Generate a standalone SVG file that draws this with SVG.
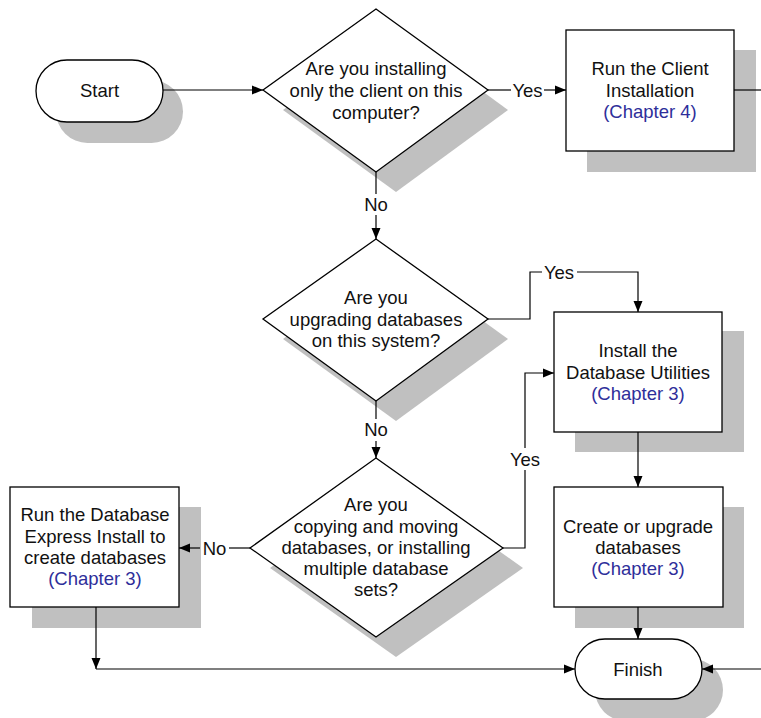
<svg xmlns="http://www.w3.org/2000/svg" width="761" height="718" viewBox="0 0 761 718">
<style>
.sh{fill:#c0c0c0;stroke:none}
.nd{fill:#fff;stroke:#000;stroke-width:1.3}
text{font-family:"Liberation Sans",Arial,sans-serif;font-size:18.5px;fill:#111;text-anchor:middle}
.ch{fill:#2e2e9a}
.cn{fill:none;stroke:#000;stroke-width:1.2}
</style>
<defs>
<marker id="ah" markerUnits="userSpaceOnUse" markerWidth="12" markerHeight="10" refX="11" refY="5" orient="auto">
<path d="M0,0.5 L11,5 L0,9.5 z" fill="#000"/>
</marker>
</defs>
<rect width="761" height="718" fill="#fff"/>

<g id="start">
<rect class="sh" x="56" y="80" width="127" height="63" rx="31.5"/>
<rect class="nd" x="36" y="60" width="127" height="62" rx="31"/>
<text x="99.5" y="97">Start</text>
</g>

<g id="q-client">
<polygon class="sh" points="396,28 508,110 396,192 283,110"/>
<polygon class="nd" points="376,9 488,90 376,172 263,90"/>
<text x="376" y="75">Are you installing</text>
<text x="376" y="97">only the client on this</text>
<text x="376" y="119">computer?</text>
</g>

<g id="client-install">
<rect class="sh" x="587" y="50" width="169" height="122"/>
<rect class="nd" x="566" y="30" width="168" height="121"/>
<text x="650" y="75">Run the Client</text>
<text x="650" y="97">Installation</text>
<text class="ch" x="650" y="118">(Chapter 4)</text>
</g>

<g id="q-upgrade">
<polygon class="sh" points="396,258 508,339 396,421 283,339"/>
<polygon class="nd" points="376,239 488,319 376,401 263,319"/>
<text x="376" y="304">Are you</text>
<text x="376" y="326">upgrading databases</text>
<text x="376" y="347">on this system?</text>
</g>

<g id="db-utilities">
<rect class="sh" x="575" y="331" width="169" height="121"/>
<rect class="nd" x="554" y="312" width="168" height="120"/>
<text x="638" y="357">Install the</text>
<text x="638" y="379">Database Utilities</text>
<text class="ch" x="638" y="400">(Chapter 3)</text>
</g>

<g id="q-copy">
<polygon class="sh" points="396,478 523,568 396,657 270,568"/>
<polygon class="nd" points="376,458 503,548 376,637 250,548"/>
<text x="376" y="511">Are you</text>
<text x="376" y="533">copying and moving</text>
<text x="376" y="554">databases, or installing</text>
<text x="376" y="575">multiple database</text>
<text x="376" y="596">sets?</text>
</g>

<g id="express-install">
<rect class="sh" x="32" y="507" width="169" height="121"/>
<rect class="nd" x="10" y="487" width="169" height="120"/>
<text x="95" y="521">Run the Database</text>
<text x="95" y="543">Express Install to</text>
<text x="95" y="564">create databases</text>
<text class="ch" x="95" y="585">(Chapter 3)</text>
</g>

<g id="create-upgrade">
<rect class="sh" x="575" y="507" width="169" height="121"/>
<rect class="nd" x="554" y="487" width="169" height="120"/>
<text x="638" y="533">Create or upgrade</text>
<text x="638" y="554">databases</text>
<text class="ch" x="638" y="575">(Chapter 3)</text>
</g>

<g id="finish">
<rect class="sh" x="595" y="659" width="128" height="62" rx="31"/>
<rect class="nd" x="575" y="639" width="127" height="60" rx="30"/>
<text x="638" y="676">Finish</text>
</g>

<g id="connectors">
<path class="cn" d="M163,90 H263" marker-end="url(#ah)"/>
<path class="cn" d="M488,90 H511"/>
<path class="cn" d="M544,90 H566" marker-end="url(#ah)"/>
<text x="527.5" y="97">Yes</text>
<path class="cn" d="M734,90 H761"/>
<path class="cn" d="M376,172 V194"/>
<text x="376" y="211">No</text>
<path class="cn" d="M376,215 V239" marker-end="url(#ah)"/>
<path class="cn" d="M488,319 H530 V272 H542"/>
<text x="559" y="279">Yes</text>
<path class="cn" d="M577,272 H638 V312" marker-end="url(#ah)"/>
<path class="cn" d="M376,401 V419"/>
<text x="376" y="436">No</text>
<path class="cn" d="M376,441 V458" marker-end="url(#ah)"/>
<path class="cn" d="M503,548 H525 V470"/>
<text x="525" y="466">Yes</text>
<path class="cn" d="M525,448 V373 H554" marker-end="url(#ah)"/>
<path class="cn" d="M250,548 H229"/>
<text x="214.5" y="555">No</text>
<path class="cn" d="M200,548 H179" marker-end="url(#ah)"/>
<path class="cn" d="M96,607 V669" marker-end="url(#ah)"/>
<path class="cn" d="M96,669 H575" marker-end="url(#ah)"/>
<path class="cn" d="M638,432 V487" marker-end="url(#ah)"/>
<path class="cn" d="M638,607 V639" marker-end="url(#ah)"/>
<path class="cn" d="M761,669 H702" marker-end="url(#ah)"/>
</g>
</svg>
